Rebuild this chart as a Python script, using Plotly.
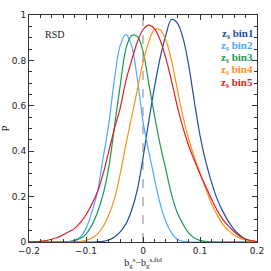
import plotly.graph_objects as go

x_grid = [round(-0.2 + 0.01 * i, 2) for i in range(41)]

bin1 = [0, 0, 0, 0, 0, 0, 0, 0, 0, 0, 0, 0,
        0.001, 0.003, 0.009, 0.022, 0.045, 0.08, 0.14, 0.23, 0.37, 0.53, 0.68, 0.81, 0.91,
        0.98, 0.965, 0.90, 0.78, 0.62, 0.47, 0.355, 0.265, 0.19, 0.135, 0.09, 0.055, 0.03,
        0.012, 0.004, 0.001]
bin2 = [0, 0, 0, 0, 0, 0, 0, 0.002, 0.008, 0.022, 0.06, 0.13, 0.22, 0.37, 0.52, 0.72, 0.865, 0.915,
        0.865, 0.72, 0.53, 0.40, 0.28, 0.17, 0.09, 0.04, 0.012, 0.003, 0, 0, 0, 0, 0, 0, 0, 0, 0, 0, 0, 0, 0]
bin3 = [0, 0, 0, 0, 0, 0, 0, 0.002, 0.006, 0.015, 0.035, 0.072, 0.13, 0.21, 0.33, 0.51, 0.69, 0.85,
        0.91, 0.905, 0.84, 0.70, 0.56, 0.43, 0.32, 0.21, 0.13, 0.08, 0.04, 0.018, 0.007, 0.002, 0,
        0, 0, 0, 0, 0, 0, 0, 0]
bin4 = [0, 0, 0, 0, 0, 0, 0, 0, 0, 0.002, 0.007, 0.017, 0.035, 0.068, 0.12, 0.19, 0.30, 0.43,
        0.55, 0.67, 0.79, 0.88, 0.935, 0.935, 0.89, 0.80, 0.675, 0.555, 0.455, 0.375, 0.305, 0.235,
        0.17, 0.12, 0.078, 0.05, 0.03, 0.017, 0.009, 0.004, 0.002]
bin5 = [0, 0.001, 0.003, 0.006, 0.012, 0.02, 0.032, 0.045, 0.06, 0.085, 0.12, 0.165, 0.22, 0.30,
        0.40, 0.50, 0.59, 0.71, 0.80, 0.88, 0.935, 0.955, 0.94, 0.89, 0.81, 0.71, 0.60, 0.505, 0.425,
        0.36, 0.30, 0.245, 0.19, 0.14, 0.10, 0.07, 0.045, 0.025, 0.013, 0.006, 0.002]

names = ["bin1", "bin2", "bin3", "bin4", "bin5"]
colors = ["#1f4e9a", "#4ea8ff", "#1a9a50", "#ff9019", "#dc1f26"]
series = [bin1, bin2, bin3, bin4, bin5]

fig = go.Figure()
for nm, c, ys in zip(names, colors, series):
    fig.add_trace(go.Scatter(x=x_grid, y=ys, mode="lines", name=nm,
                             line=dict(color=c, width=1.2, shape="spline", smoothing=1.0),
                             showlegend=False))

fig.add_shape(type="line", x0=0, x1=0, y0=0, y1=1, xref="x", yref="y",
              line=dict(color="#999999", width=1.2, dash="dash"), layer="below")

for i, (nm, c) in enumerate(zip(names, colors)):
    fig.add_annotation(x=0.992, y=0.918 - i * 0.054, xref="x domain", yref="y domain",
                       text=f"<b>z<sub>s</sub> {nm}</b>", showarrow=False,
                       font=dict(color=c, size=11, family="Liberation Serif"),
                       xanchor="right", yanchor="middle")

fig.add_annotation(text="RSD", x=-0.176, y=0.912, xref="x", yref="y", showarrow=False,
                   xanchor="left", yanchor="middle",
                   font=dict(size=10, family="Liberation Serif", color="#222"))

axis_common = dict(showline=True, linecolor="#333", linewidth=1, mirror="ticks",
                   ticks="inside", tickcolor="#333", ticklen=5, tickwidth=1,
                   showgrid=False, zeroline=False, automargin=False,
                   tickfont=dict(size=9, family="DejaVu Sans", color="#222"))

fig.update_xaxes(range=[-0.2, 0.2], dtick=0.1, tick0=0,
                 minor=dict(dtick=0.02, ticklen=3, ticks="inside", tickcolor="#333", showgrid=False),
                 title=dict(text="b<sub>g</sub><sup>s</sup>−b<sub>g</sub><sup>s,fid</sup>",
                            font=dict(size=10, family="Liberation Serif", color="#222"), standoff=4),
                 **axis_common)
fig.update_yaxes(range=[0, 1], dtick=0.2, tick0=0,
                 minor=dict(dtick=0.05, ticklen=3, ticks="inside", tickcolor="#333", showgrid=False),
                 title=dict(text="P", font=dict(size=10, family="Liberation Serif", color="#222"),
                            standoff=4),
                 **axis_common)

fig.update_layout(width=271, height=271, margin=dict(l=29, r=14, t=15, b=29),
                  plot_bgcolor="white", paper_bgcolor="white")

fig.write_html("out.html", config={"displayModeBar": False},
               post_script="document.body.style.margin='0px';document.body.style.overflow='hidden';")
